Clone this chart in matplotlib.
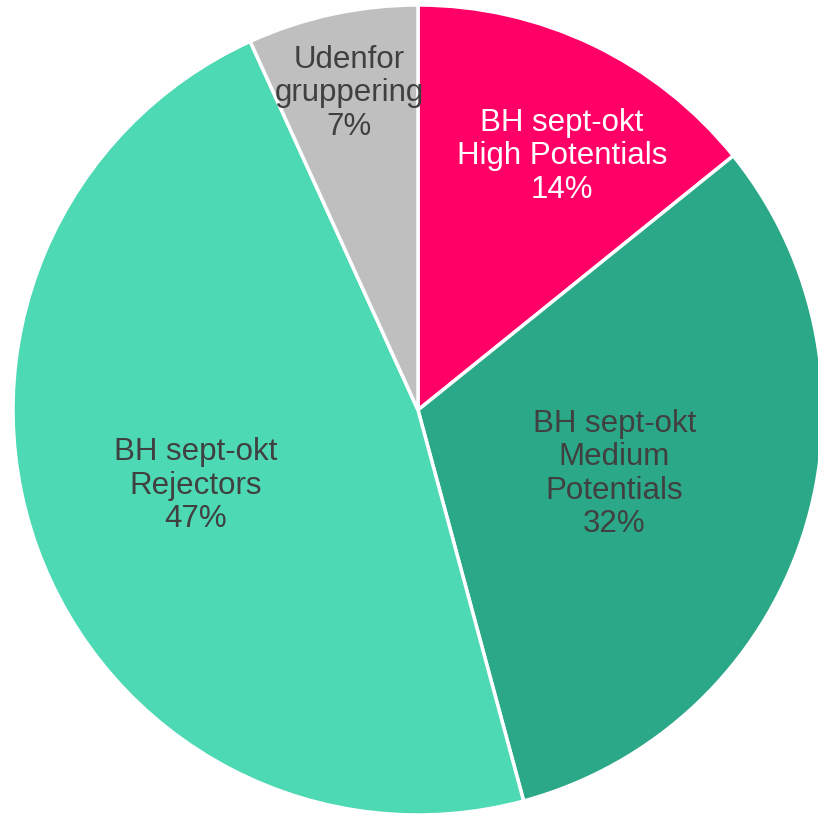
import numpy as np
from matplotlib import pyplot as plt

plt.rcParams['font.family'] = ['Liberation Sans', 'DejaVu Sans']

# Data
labels = ["BH sept-okt\nHigh Potentials", "BH sept-okt\nMedium\nPotentials",
          "BH sept-okt\nRejectors", "Udenfor\ngruppering"]
values = [14.2, 31.6, 47.4, 6.8]
colors = ["#FF0066", "#2BA887", "#4DD9B4", "#BFBFBF"]
text_colors = ["white", "#404040", "#404040", "#404040"]
label_radius = [0.72, 0.51, 0.58, 0.80]
label_shift = [4, 0, 1, 0]  # grader ekstra forskydning med uret

fig = plt.figure(figsize=(8.18, 8.15), dpi=100)
ax = fig.add_axes([0, 0, 1, 1])

wedges, _ = ax.pie(values, colors=colors, startangle=90, counterclock=False,
                   wedgeprops=dict(edgecolor="white", linewidth=2.5))

for w, lab, v, tc, r, sh in zip(wedges, labels, values, text_colors, label_radius, label_shift):
    ang = np.deg2rad((w.theta1 + w.theta2) / 2 - sh)
    ax.text(r * np.cos(ang), r * np.sin(ang), f"{lab}\n{v:.0f}%", ha="center", va="center",
            fontsize=22.5, color=tc, linespacing=1.15)

ax.set_aspect("auto")
ax.set_xlim(-418 / 405, 400 / 405)
ax.set_ylim(-1.0, 410 / 405)
ax.axis("off")

fig.savefig("out.png", dpi=100)
